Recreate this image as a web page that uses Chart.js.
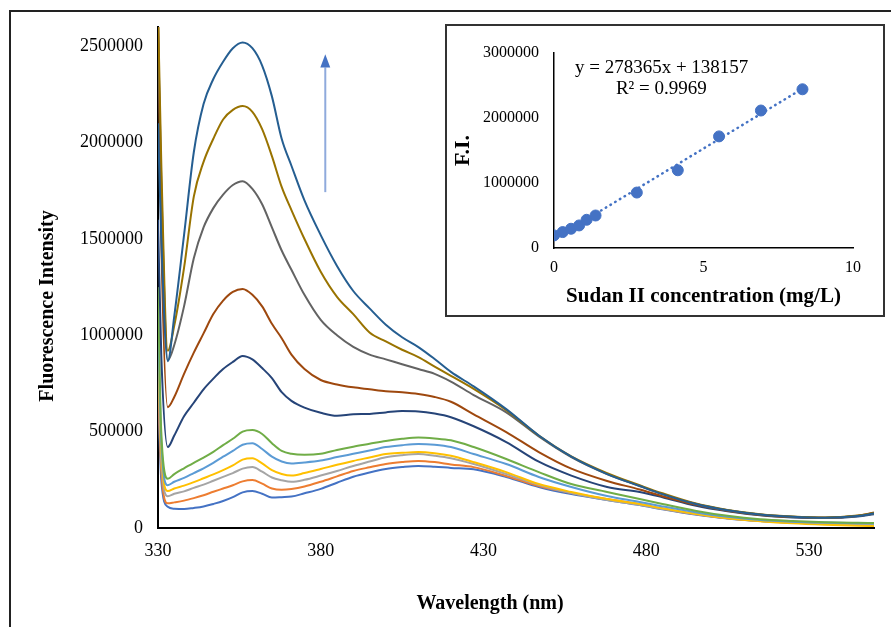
<!DOCTYPE html>
<html>
<head>
<meta charset="utf-8">
<script src="https://cdn.jsdelivr.net/npm/chart.js@4.4.0/dist/chart.umd.min.js"></script>
<style>
  html, body { margin: 0; padding: 0; background: #fff; }
  #wrap { position: relative; width: 891px; height: 627px; overflow: hidden; background: #fff; }
  #frame { position: absolute; left: 9px; top: 10px; width: 900px; height: 700px; border-left: 2px solid #222; border-top: 2px solid #222; }
  #main { position: absolute; left: 0; top: 0; }
  #insetBox { position: absolute; left: 445px; top: 24px; width: 436px; height: 289px; border: 2px solid #333; background: #fff; }
  #inset { position: absolute; left: 0; top: 0; }
</style>
</head>
<body>
<div id="wrap">
  <div id="frame"></div>
  <canvas id="main" width="891" height="627"></canvas>
  <div id="insetBox"><canvas id="inset" width="436" height="289"></canvas></div>
</div>
<script>
// Emission spectra ---------------------------------
var wavelengths = [330, 331, 333, 335, 338, 341, 344, 347, 350, 353, 356, 359, 362, 365, 368, 371, 375, 380, 385, 390,
                   395, 400, 405, 410, 415, 420, 427, 437, 447, 457, 468, 478, 485, 495, 505, 515, 525, 535, 545, 550];

var spectrum1  = [700000, 250000, 110000, 100000, 98000, 104000, 112000, 125000, 140000, 160000, 185000, 192000, 178000, 158000, 160000, 163000, 180000, 203000, 235000, 266000,
                  288000, 306000, 316000, 322000, 318000, 312000, 305000, 265000, 213000, 176000, 145000, 119000, 97000, 70000, 49000, 36000, 28000, 23000, 20000, 19000];
var spectrum2  = [760000, 300000, 128000, 133000, 142000, 155000, 170000, 188000, 205000, 222000, 242000, 249000, 230000, 205000, 198000, 202000, 215000, 240000, 268000, 296000,
                  315000, 332000, 342000, 348000, 342000, 330000, 316000, 270000, 218000, 182000, 150000, 124000, 100000, 72000, 50000, 36000, 28000, 22000, 19000, 18000];
var spectrum3  = [900000, 350000, 165000, 178000, 190000, 208000, 225000, 245000, 265000, 285000, 308000, 316000, 292000, 262000, 248000, 240000, 250000, 272000, 296000, 322000,
                  345000, 367000, 378000, 384000, 375000, 362000, 332000, 280000, 223000, 182000, 145000, 119000, 98000, 72000, 50000, 36000, 27000, 22000, 18000, 16000];
var spectrum4  = [1000000, 400000, 192000, 205000, 220000, 238000, 258000, 278000, 300000, 325000, 355000, 362000, 335000, 300000, 280000, 272000, 285000, 306000, 328000, 348000,
                  366000, 384000, 390000, 394000, 388000, 375000, 342000, 290000, 228000, 187000, 150000, 124000, 102000, 74000, 50000, 35000, 24000, 17000, 12000, 10000];
var spectrum5  = [1100000, 450000, 222000, 240000, 260000, 285000, 310000, 338000, 370000, 400000, 432000, 440000, 410000, 370000, 345000, 335000, 340000, 350000, 368000, 385000,
                  402000, 420000, 430000, 436000, 432000, 420000, 384000, 332000, 265000, 213000, 166000, 135000, 112000, 82000, 58000, 42000, 33000, 28000, 25000, 24000];
var spectrum6  = [1250000, 500000, 255000, 280000, 310000, 338000, 365000, 395000, 430000, 463000, 500000, 508000, 488000, 440000, 400000, 385000, 380000, 385000, 405000, 422000,
                  437000, 452000, 463000, 470000, 465000, 455000, 420000, 358000, 290000, 228000, 187000, 150000, 125000, 90000, 63000, 45000, 36000, 30000, 27000, 26000];
var spectrum7  = [1600000, 900000, 420000, 480000, 580000, 650000, 720000, 775000, 825000, 862000, 893000, 875000, 830000, 778000, 705000, 660000, 625000, 598000, 582000, 590000,
                  592000, 600000, 607000, 605000, 594000, 575000, 528000, 446000, 344000, 272000, 213000, 187000, 160000, 117000, 87000, 66000, 55000, 52000, 60000, 72000];
var spectrum8  = [2700000, 1500000, 627000, 680000, 800000, 910000, 1010000, 1110000, 1180000, 1225000, 1240000, 1210000, 1150000, 1060000, 985000, 900000, 825000, 768000, 745000, 730000,
                  720000, 710000, 704000, 695000, 680000, 655000, 590000, 498000, 394000, 308000, 244000, 200000, 165000, 122000, 90000, 68000, 57000, 53000, 63000, 80000];
var spectrum9  = [2600000, 1800000, 870000, 950000, 1150000, 1400000, 1560000, 1660000, 1730000, 1780000, 1800000, 1760000, 1680000, 1560000, 1440000, 1340000, 1210000, 1080000, 1000000, 940000,
                  900000, 875000, 850000, 825000, 800000, 760000, 690000, 600000, 475000, 368000, 280000, 218000, 176000, 126000, 92000, 70000, 58000, 53000, 62000, 74000];
var spectrum10 = [2700000, 1900000, 920000, 1050000, 1350000, 1720000, 1900000, 2020000, 2120000, 2170000, 2190000, 2160000, 2070000, 1930000, 1770000, 1650000, 1500000, 1330000, 1200000, 1110000,
                  1015000, 968000, 925000, 887000, 838000, 790000, 722000, 612000, 480000, 372000, 285000, 222000, 180000, 128000, 94000, 72000, 60000, 55000, 65000, 78000];
var spectrum11 = [2100000, 1500000, 866000, 1100000, 1520000, 1950000, 2200000, 2330000, 2420000, 2490000, 2520000, 2490000, 2400000, 2240000, 2020000, 1880000, 1700000, 1520000, 1360000, 1230000,
                  1140000, 1055000, 990000, 939000, 877000, 810000, 735000, 617000, 480000, 370000, 280000, 218000, 176000, 126000, 92000, 70000, 58000, 53000, 62000, 75000];

var spectra = [spectrum1, spectrum2, spectrum3, spectrum4, spectrum5, spectrum6,
               spectrum7, spectrum8, spectrum9, spectrum10, spectrum11];
var spectraColors = ["#4472C4", "#ED7D31", "#A5A5A5", "#FFC000", "#5B9BD5", "#70AD47",
                     "#264478", "#9E480E", "#636363", "#997300", "#255E91"];

var xTickValues = [330, 380, 430, 480, 530];
var yTickValues = [0, 500000, 1000000, 1500000, 2000000, 2500000];

// Calibration inset ----------
var concentrations = [0, 0.29, 0.57, 0.84, 1.09, 1.39, 2.77, 4.14, 5.52, 6.92, 8.31];
var fiValues = [194000, 245000, 296000, 347000, 434000, 500000, 853000, 1196000, 1717000, 2115000, 2442000];
var trendX = [0, 8.31];
var trendY = [138157, 2451470];
var insetXTicks = [0, 5, 10];
var insetYTicks = [0, 1000000, 2000000, 3000000];

var serif = "'Liberation Serif', 'Times New Roman', serif";

// Axis titles and the arrow on the main chart
var mainDecor = {
    id: 'mainDecor',
    afterDraw: function(chart) {
        var ctx = chart.ctx;
        var xs = chart.scales.x, ys = chart.scales.y;
        ctx.save();
        ctx.fillStyle = '#000';
        ctx.font = 'bold 20px ' + serif;
        ctx.textAlign = 'center';
        ctx.textBaseline = 'middle';
        ctx.fillText('Wavelength (nm)', 490, 604);
        ctx.translate(48, 306);
        ctx.rotate(-Math.PI / 2);
        ctx.fillText('Fluorescence Intensity', 0, 0);
        ctx.restore();

        // arrow
        var ax = xs.getPixelForValue(381.4);
        var yBottom = ys.getPixelForValue(1743000);
        var yBase = ys.getPixelForValue(2390000);
        var yTip = ys.getPixelForValue(2458000);
        ctx.save();
        ctx.strokeStyle = '#8FAADC';
        ctx.lineWidth = 2;
        ctx.beginPath();
        ctx.moveTo(ax, yBottom);
        ctx.lineTo(ax, yBase);
        ctx.stroke();
        ctx.fillStyle = '#4472C4';
        ctx.beginPath();
        ctx.moveTo(ax, yTip);
        ctx.lineTo(ax - 5, yBase);
        ctx.lineTo(ax + 5, yBase);
        ctx.closePath();
        ctx.fill();
        ctx.restore();
    }
};

var mainChart = new Chart(document.getElementById('main'), {
    type: 'line',
    data: {
        datasets: spectra.map(function(vals, i) {
            return {
                data: wavelengths.map(function(w, k) { return {x: w, y: vals[k]}; }),
                borderColor: spectraColors[i],
                borderWidth: 2,
                pointRadius: 0,
                fill: false,
                cubicInterpolationMode: 'monotone',
                order: spectra.length - i
            };
        })
    },
    options: {
        responsive: false,
        animation: false,
        devicePixelRatio: 1,
        layout: { padding: { top: 27, right: 17, left: 0, bottom: 0 } },
        plugins: { legend: { display: false }, tooltip: { enabled: false } },
        scales: {
            x: {
                type: 'linear', min: 330, max: 550,
                grid: { display: false, drawTicks: false },
                border: { display: true, color: '#000', width: 2 },
                afterBuildTicks: function(s) { s.ticks = xTickValues.map(function(v) { return {value: v}; }); },
                afterFit: function(s) { s.height = 99; },
                ticks: { font: { family: serif, size: 18 }, color: '#000', padding: 12, maxRotation: 0, autoSkip: false }
            },
            y: {
                type: 'linear', min: 0, max: 2600000,
                grid: { display: false, drawTicks: false },
                border: { display: true, color: '#000', width: 2 },
                afterBuildTicks: function(s) { s.ticks = yTickValues.map(function(v) { return {value: v}; }); },
                afterFit: function(s) { s.width = 158; },
                ticks: { font: { family: serif, size: 18 }, color: '#000', padding: 15,
                         callback: function(v) { return String(v); } }
            }
        }
    },
    plugins: [mainDecor]
});

// Equation of the trend line in the inset
var insetDecor = {
    id: 'insetDecor',
    afterDraw: function(chart) {
        var ctx = chart.ctx;
        var xs = chart.scales.x, ys = chart.scales.y;
        ctx.save();
        ctx.fillStyle = '#000';
        ctx.font = '19px ' + serif;
        ctx.textBaseline = 'middle';
        ctx.textAlign = 'left';
        ctx.fillText('y = 278365x + 138157', xs.getPixelForValue(0.7), ys.getPixelForValue(2770000));
        ctx.fillText('R\u00B2 = 0.9969', xs.getPixelForValue(2.07), ys.getPixelForValue(2440000));
        ctx.restore();
    }
};

var insetChart = new Chart(document.getElementById('inset'), {
    type: 'scatter',
    data: {
        datasets: [
            {
                type: 'line',
                data: trendX.map(function(x, i) { return {x: x, y: trendY[i]}; }),
                borderColor: '#4472C4',
                borderWidth: 2.5,
                borderDash: [0.5, 5],
                borderCapStyle: 'round',
                pointRadius: 0,
                fill: false,
                order: 2
            },
            {
                data: concentrations.map(function(c, i) { return {x: c, y: fiValues[i]}; }),
                backgroundColor: '#4472C4',
                borderColor: '#4472C4',
                pointRadius: 5.5,
                order: 1
            }
        ]
    },
    options: {
        responsive: false,
        animation: false,
        devicePixelRatio: 1,
        layout: { padding: { top: 27, right: 30, left: 0, bottom: 0 } },
        plugins: { legend: { display: false }, tooltip: { enabled: false } },
        scales: {
            x: {
                type: 'linear', min: 0, max: 10,
                grid: { display: false, drawTicks: false },
                border: { display: true, color: '#000', width: 1.5 },
                afterBuildTicks: function(s) { s.ticks = insetXTicks.map(function(v) { return {value: v}; }); },
                afterFit: function(s) { s.height = 67; },
                ticks: { font: { family: serif, size: 16 }, color: '#000', padding: 10, maxRotation: 0 },
                title: { display: true, text: 'Sudan II concentration (mg/L)', color: '#000',
                         font: { family: serif, size: 21, weight: 'bold' }, padding: { top: 0, bottom: 6 } }
            },
            y: {
                type: 'linear', min: 0, max: 3000000,
                grid: { display: false, drawTicks: false },
                border: { display: true, color: '#000', width: 1.5 },
                afterBuildTicks: function(s) { s.ticks = insetYTicks.map(function(v) { return {value: v}; }); },
                afterFit: function(s) { s.width = 107; },
                ticks: { font: { family: serif, size: 16 }, color: '#000', padding: 15,
                         callback: function(v) { return String(v); } },
                title: { display: true, text: 'F.I.', color: '#000',
                         font: { family: serif, size: 22, weight: 'bold' }, padding: { top: 3, bottom: 0 } }
            }
        }
    },
    plugins: [insetDecor]
});
</script>
</body>
</html>
